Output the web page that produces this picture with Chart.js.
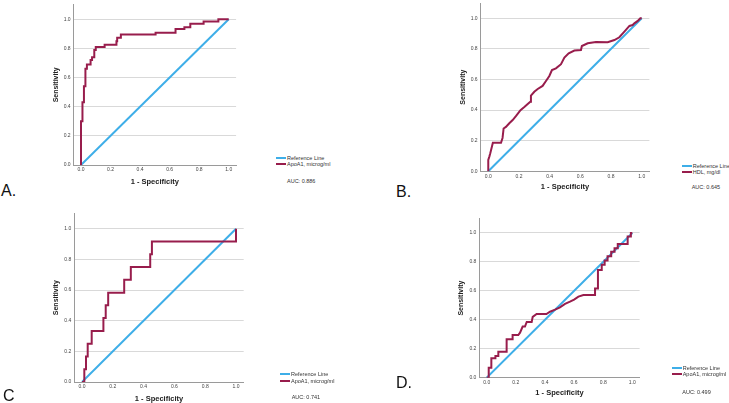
<!DOCTYPE html>
<html><head><meta charset="utf-8">
<script src="https://cdn.jsdelivr.net/npm/chart.js@4.4.0/dist/chart.umd.min.js"></script>
<style>
html,body{margin:0;padding:0;background:#fff;}
body{width:729px;height:403px;overflow:hidden;position:relative;font-family:"Liberation Sans",Arial,sans-serif;}
canvas{position:absolute;}
.lbl{position:absolute;font-size:16px;line-height:16px;color:#111;white-space:nowrap;}
.txt{position:absolute;font-size:5.5px;line-height:6px;color:#333;white-space:nowrap;}
.sw{position:absolute;width:10px;height:2px;}
</style></head><body>
<script>
// ---- data ----
const xTicks = [0, 0.2, 0.4, 0.6, 0.8, 1.0];
const yTicks = [0, 0.2, 0.4, 0.6, 0.8, 1.0];
const refX = [0, 1];
const refY = [0, 1];

const aFpr = [0,0,0.01,0.01,0.02,0.02,0.03,0.03,0.04,0.04,0.065,0.065,0.075,0.075,0.09,0.09,0.10,0.10,0.16,0.16,0.24,0.24,0.245,0.245,0.27,0.27,0.505,0.505,0.64,0.64,0.70,0.70,0.74,0.74,0.83,0.83,0.93,0.93,1.0];
const aTpr = [0,0.30,0.30,0.43,0.43,0.54,0.54,0.66,0.66,0.69,0.69,0.72,0.72,0.74,0.74,0.79,0.79,0.81,0.81,0.826,0.826,0.85,0.85,0.874,0.874,0.895,0.895,0.908,0.908,0.934,0.934,0.945,0.945,0.97,0.97,0.985,0.985,1.0,1.0];

const bFpr = [0,0,0.007,0.013,0.03,0.083,0.093,0.10,0.115,0.137,0.159,0.18,0.21,0.235,0.257,0.274,0.278,0.30,0.322,0.354,0.376,0.398,0.415,0.441,0.474,0.496,0.524,0.561,0.604,0.61,0.648,0.702,0.778,0.822,0.854,0.887,0.92,0.941,0.952,0.974,0.991,1.0];
const bTpr = [0,0.074,0.096,0.118,0.187,0.187,0.218,0.28,0.29,0.314,0.335,0.36,0.40,0.42,0.44,0.455,0.495,0.52,0.538,0.558,0.59,0.623,0.662,0.673,0.70,0.743,0.771,0.789,0.793,0.819,0.837,0.845,0.843,0.858,0.876,0.913,0.95,0.956,0.967,0.983,1.0,1.0];

const cFpr = [0,0.015,0.015,0.026,0.026,0.037,0.037,0.063,0.063,0.139,0.139,0.154,0.154,0.17,0.17,0.274,0.274,0.317,0.317,0.443,0.443,0.454,0.454,1.0,1.0];
const cTpr = [0,0,0.083,0.083,0.167,0.167,0.25,0.25,0.333,0.333,0.417,0.417,0.5,0.5,0.583,0.583,0.667,0.667,0.75,0.75,0.833,0.833,0.917,0.917,1.0];

const dFpr = [0,0.014,0.014,0.032,0.032,0.06,0.06,0.08,0.08,0.137,0.137,0.178,0.178,0.217,0.229,0.247,0.263,0.275,0.309,0.316,0.343,0.41,0.435,0.47,0.503,0.538,0.572,0.6,0.63,0.664,0.744,0.744,0.764,0.764,0.79,0.79,0.81,0.81,0.83,0.83,0.855,0.855,0.878,0.878,0.9,0.9,0.968,0.968,0.99,0.99,1.0];
const dTpr = [0,0,0.069,0.069,0.134,0.134,0.15,0.15,0.18,0.18,0.265,0.265,0.295,0.295,0.311,0.353,0.353,0.385,0.385,0.42,0.44,0.44,0.456,0.47,0.486,0.51,0.525,0.54,0.56,0.571,0.571,0.617,0.617,0.744,0.744,0.78,0.78,0.809,0.809,0.84,0.84,0.871,0.871,0.894,0.894,0.924,0.924,0.975,0.975,1.0,1.0];

const panelLetters = ['A.', 'B.', 'C', 'D.'];
const seriesNames = ['ApoA1, microg/ml', 'HDL, mg/dl', 'ApoA1, microg/ml', 'ApoA1, microg/ml'];
const aucValues = ['0.886', '0.645', '0.741', '0.499'];
const refName = 'Reference Line';
const xTitle = '1 - Specificity';
const yTitle = 'Sensitivity';

// ---- layout / style ----
const RED = '#981d4c', BLUE = '#3eaee8';
const F = '"Liberation Sans", Arial, sans-serif';
const panels = [
  {fx:aFpr, ty:aTpr, L:73.6, T:4.7,  R:236.1, B:165,   yT:56,    xT:182,   leg:[276,158,164], auc:[287,181],   let:[1,182.8]},
  {fx:bFpr, ty:bTpr, L:480.6,T:3.0,  R:649.4, B:171.3, yT:463.3, xT:187.3, leg:[681.7,165.7,172], auc:[691.7,186.7], let:[396,183.7]},
  {fx:cFpr, ty:cTpr, L:74.3, T:213.4,R:243.7, B:382,   yT:56,    xT:398.7, leg:[280,374,381], auc:[291.7,396.7], let:[3,388.4]},
  {fx:dFpr, ty:dTpr, L:479.4,T:218.5,R:639.6, B:377.7, yT:460.7, xT:393.3, leg:[671.7,368.3,374.3], auc:[682.3,392.3], let:[396,374.7]}
];

function pts(xs, ys){ return xs.map((x,i)=>({x:x, y:ys[i]})); }
function add(cls, x, y, text){ const d=document.createElement('div'); d.className=cls; d.style.left=x+'px'; d.style.top=y+'px'; if(text!==undefined) d.textContent=text; document.body.appendChild(d); return d; }

panels.forEach((p, idx) => {
  const left = Math.floor(p.L) - 30, top = Math.floor(p.T) - 10;
  const right = Math.ceil(p.R) + 10, bottom = Math.ceil(p.B) + 30;
  const w = right - left, h = bottom - top;
  const cv = document.createElement('canvas');
  cv.width = w; cv.height = h;
  cv.style.left = left + 'px'; cv.style.top = top + 'px';
  cv.style.width = w + 'px'; cv.style.height = h + 'px';
  document.body.appendChild(cv);
  const yW = p.L - left, xH = bottom - p.B;
  const padT = p.T - top, padR = right - p.R;
  const yTitlePad = p.yT - left - 4.2;
  const xTitlePad = bottom - p.xT - 4.5;
  new Chart(cv, {
    type: 'line',
    data: { datasets: [
      { label: seriesNames[idx], data: pts(p.fx, p.ty), borderColor: RED, borderWidth: 2, pointRadius: 0, fill: false, tension: 0 },
      { label: refName, data: pts(refX, refY), borderColor: BLUE, borderWidth: 2, pointRadius: 0, fill: false, tension: 0 }
    ]},
    options: {
      responsive: false, animation: false, devicePixelRatio: 1,
      layout: { padding: { top: padT, right: padR, left: 0, bottom: 0 } },
      plugins: { legend: { display: false }, tooltip: { enabled: false } },
      scales: {
        x: { type: 'linear', min: -0.05, max: 1.05,
          afterBuildTicks: s => { s.ticks = xTicks.map(v => ({ value: v })); },
          afterFit: s => { s.height = xH; },
          grid: { display: false, drawTicks: false },
          border: { display: true, color: '#9a9a9a', width: 1 },
          ticks: { font: { size: 5, family: F }, color: '#444', padding: 2, autoSkip: false, maxRotation: 0, callback: v => Number(v).toFixed(1) },
          title: { display: true, text: xTitle, font: { size: 7.5, weight: 'bold', family: F }, color: '#222', padding: { top: 0, bottom: xTitlePad } }
        },
        y: { type: 'linear', min: 0, max: 1.1,
          afterBuildTicks: s => { s.ticks = yTicks.map(v => ({ value: v })); },
          afterFit: s => { s.width = yW; },
          grid: { color: '#d9d9d9', lineWidth: 1, drawTicks: false },
          border: { display: true, color: '#9a9a9a', width: 1 },
          ticks: { font: { size: 5, family: F }, color: '#444', padding: 3, callback: v => Number(v).toFixed(1) },
          title: { display: true, text: yTitle, font: { size: 7, weight: 'bold', family: F }, color: '#222', padding: { top: yTitlePad, bottom: 0 } }
        }
      }
    }
  });
  // legend + AUC + panel letter
  const sx = p.leg[0];
  const s1 = add('sw', sx, p.leg[1] - 1); s1.style.background = BLUE;
  add('txt', sx + 11, p.leg[1] - 3, refName);
  const s2 = add('sw', sx, p.leg[2] - 1); s2.style.background = RED;
  add('txt', sx + 11, p.leg[2] - 3, seriesNames[idx]);
  add('txt', p.auc[0], p.auc[1] - 3, 'AUC: ' + aucValues[idx]);
  add('lbl', p.let[0], p.let[1], panelLetters[idx]);
});
</script>
</body></html>
